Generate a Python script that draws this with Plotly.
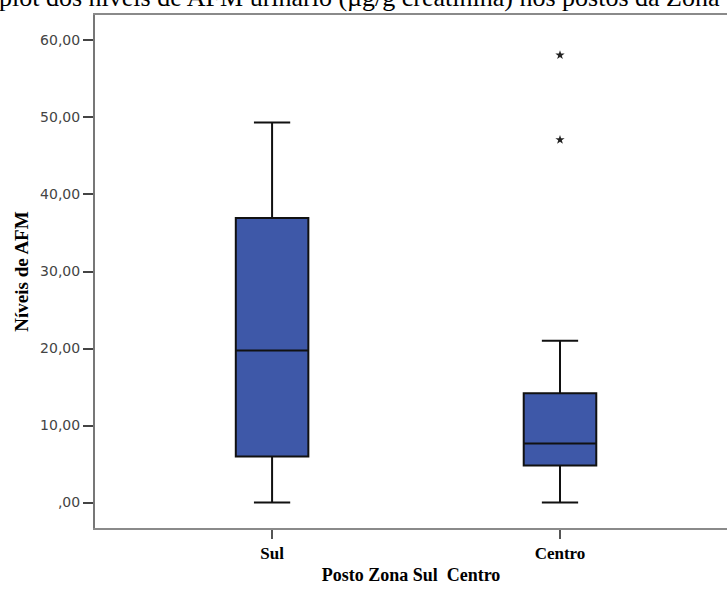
import plotly.graph_objects as go

categories = ["Sul", "Centro"]
lower_fence = [0.0, 0.0]
q1_vals = [5.97, 4.8]
median_vals = [19.74, 7.66]
q3_vals = [36.95, 14.2]
upper_fence = [49.35, 21.0]

outlier_cats = ["Centro", "Centro"]
outlier_vals = [47.1, 58.1]

y_tickvals = [0, 10, 20, 30, 40, 50, 60]
y_ticktext = [",00", "10,00", "20,00", "30,00", "40,00", "50,00", "60,00"]

title_text = "plot dos níveis de AFM urinário (µg/g creatinina) nos postos da Zona"
x_title = "Posto Zona Sul  Centro"
y_title = "Níveis de AFM"

W, H = 727, 590
L, R, T, B = 95, 0, 15, 62

fig = go.Figure()
fig.add_trace(go.Box(
    x=categories,
    q1=q1_vals, median=median_vals, q3=q3_vals,
    lowerfence=lower_fence, upperfence=upper_fence,
    width=0.252,
    whiskerwidth=0.5,
    fillcolor="#3E58A8",
    line=dict(color="#111111", width=2),
    boxpoints=False,
    showlegend=False,
    hoverinfo="skip",
))
fig.add_trace(go.Scatter(
    x=outlier_cats, y=outlier_vals, mode="markers",
    marker=dict(symbol="star", size=7, color="#222222"),
    showlegend=False, hoverinfo="skip",
))

fig.add_annotation(
    text=title_text, xref="paper", yref="paper",
    x=(-3 - L) / (W - L - R), y=1 + (T + 2.5) / (H - T - B),
    xanchor="left", yanchor="middle", showarrow=False,
    font=dict(family="Liberation Serif", size=26, color="#000000"),
)

fig.update_layout(
    width=W, height=H,
    margin=dict(l=L, r=R, t=T, b=B),
    paper_bgcolor="white", plot_bgcolor="white",
    font=dict(family="Liberation Serif"),
)
fig.update_xaxes(
    type="category", categoryorder="array", categoryarray=categories,
    range=[-0.615, 1.58],
    showline=True, linecolor="#8a8a8a", linewidth=2, mirror=True,
    ticks="outside", ticklen=9, tickcolor="#555555", tickwidth=1.5,
    showgrid=False, zeroline=False,
    tickfont=dict(family="Liberation Serif", size=17, color="#000000"),
    title=dict(text="<b>" + x_title + "</b>", standoff=6,
               font=dict(family="Liberation Serif", size=18, color="#000000")),
    tickprefix="<b>", ticksuffix="</b>",
)
fig.update_yaxes(
    range=[-3.3, 63.3],
    tickvals=y_tickvals, ticktext=y_ticktext,
    showline=True, linecolor="#777777", linewidth=2,
    ticks="outside", ticklen=10, tickcolor="#444444", tickwidth=1.5,
    showgrid=False, zeroline=False,
    tickfont=dict(family="DejaVu Sans", size=14, color="#444444"),
    title=dict(text="<b>" + y_title + "</b>", standoff=6,
               font=dict(family="Liberation Serif", size=19, color="#000000")),
)

fig.write_html(
    "out.html",
    config={"displayModeBar": False},
    post_script="document.body.style.margin='0';document.body.style.overflow='hidden';",
)
